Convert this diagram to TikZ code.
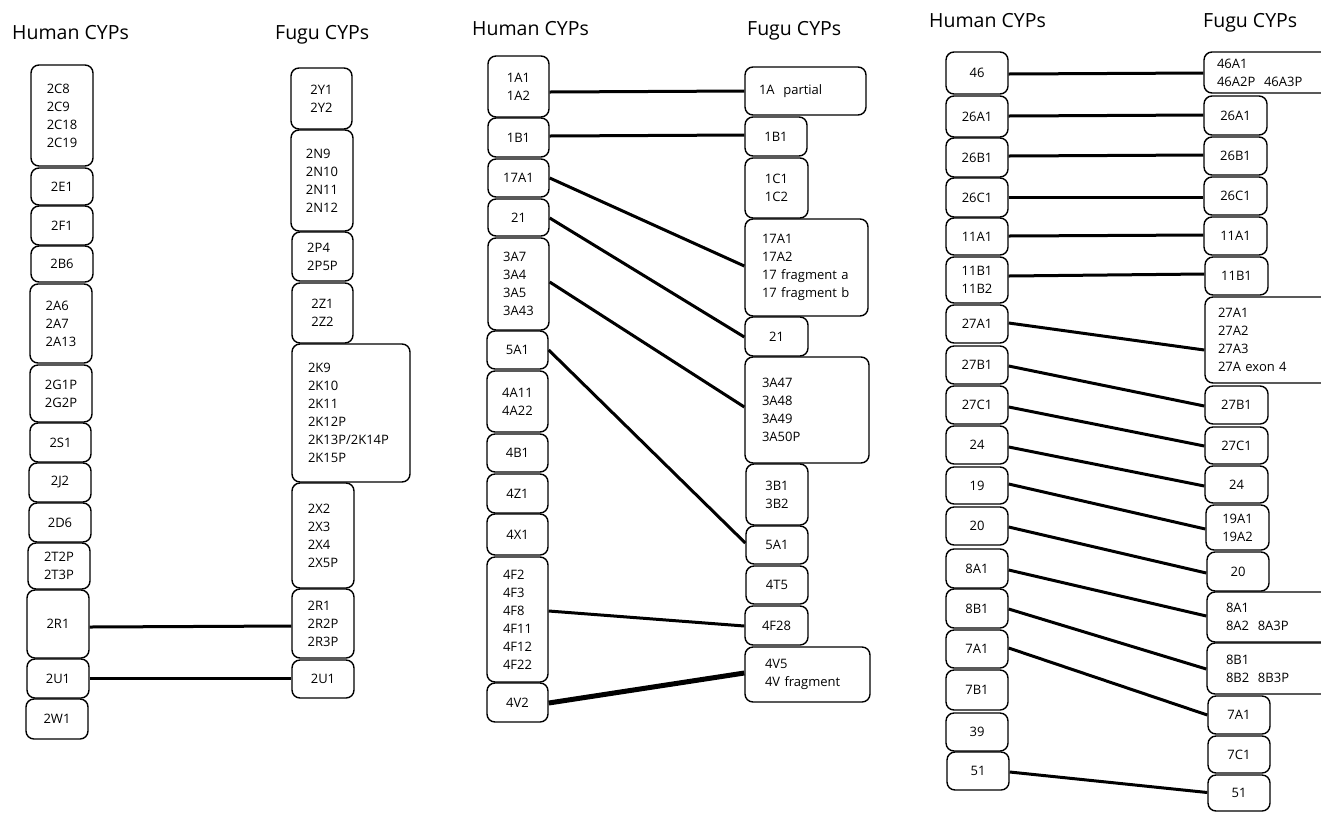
\documentclass[tikz,border=0pt]{standalone}
\usepackage{fontspec}
\setmainfont{Open Sans}
\usetikzlibrary{calc}
\tikzset{
  cypbox/.style={draw, line width=1.4pt, rounded corners=8pt, inner sep=0pt,
    align=left, font=\fontsize{13}{18}\selectfont},
  conn/.style={line width=3pt},
  heavy/.style={line width=5pt},
  head/.style={font=\fontsize{19.5}{22}\selectfont, anchor=base west, inner sep=0pt},
}
% box from (x1,y1) to (x2,y2), text block centred
\newcommand\cyp[6]{\node[cypbox, minimum width={#4-#2}, minimum height={#5-#3}]
  (#1) at ({(#2+#4)/2},{(#3+#5)/2}) {#6};}
% wide box, text flush left with padding #7
\newcommand\cypw[7]{\pgfmathsetmacro\cyptw{#4-#2-2*#7}%
  \node[cypbox, text width=\cyptw pt, minimum width={#4-#2}, minimum height={#5-#3}]
  (#1) at ({(#2+#4)/2},{(#3+#5)/2}) {#6};}
% connector: offsets measured downward from the side centres
\newcommand\link[5][conn]{\draw[#1] ($(#2.east)+(0,#3)$) -- ($(#4.west)+(0,#5)$);}
\begin{document}
\begin{tikzpicture}[x=1pt, y=-1pt]
\useasboundingbox (0,0) rectangle (1321,812);
\clip (0,0) rectangle (1321,812);

% ---------- CYP2 families ----------
\node[head] (t1h) at (12,39) {Human CYPs};
\node[head] (t1f) at (275,39) {Fugu CYPs};

\cyp{h2C}{31}{65}{93}{166}{2C8\\2C9\\2C18\\2C19}
\cyp{h2E1}{31}{168}{93}{205}{2E1}
\cyp{h2F1}{31}{206}{93}{245}{2F1}
\cyp{h2B6}{31}{246}{93}{282}{2B6}
\cyp{h2A}{30}{284}{92}{363}{2A6\\2A7\\2A13}
\cyp{h2G}{30}{365}{92}{422}{2G1P\\2G2P}
\cyp{h2S1}{30}{423}{91}{462}{2S1}
\cyp{h2J2}{29}{463}{91}{502}{2J2}
\cyp{h2D6}{29}{503}{91}{542}{2D6}
\cyp{h2T}{28}{543}{90}{589}{2T2P\\2T3P}
\cyp{h2R1}{27}{590}{89}{658}{2R1}
\cyp{h2U1}{27}{659}{89}{698}{2U1}
\cyp{h2W1}{26}{699}{88}{739}{2W1}

\cyp{f2Y}{291}{68}{352}{129}{2Y1\\2Y2}
\cyp{f2N}{291}{130}{353}{231}{2N9\\2N10\\2N11\\2N12}
\cyp{f2P}{292}{232}{353}{281}{2P4\\2P5P}
\cyp{f2Z}{292}{283}{353}{343}{2Z1\\2Z2}
\cypw{f2K}{292}{344}{410}{482}{2K9\\2K10\\2K11\\2K12P\\2K13P/2K14P\\2K15P}{16}
\cyp{f2X}{292}{483}{354}{588}{2X2\\2X3\\2X4\\2X5P}
\cyp{f2R}{292}{589}{354}{658}{2R1\\2R2P\\2R3P}
\cyp{f2U1}{292}{660}{354}{698}{2U1}

\link{h2R1}{3}{f2R}{2.5}
\link{h2U1}{-0.5}{f2U1}{-1}

% ---------- CYP1, 3, 4, 5, 17, 21 families ----------
\node[head] (t2h) at (472,35) {Human CYPs};
\node[head] (t2f) at (747,35) {Fugu CYPs};

\cyp{h1A}{488}{56}{549}{117}{1A1\\1A2}
\cyp{h1B1}{488}{118}{549}{157}{1B1}
\cyp{h17A1}{488}{159}{549}{197}{17A1}
\cyp{h21}{488}{199}{549}{236}{21}
\cyp{h3A}{488}{238}{549}{330}{3A7\\3A4\\3A5\\3A43}
\cyp{h5A1}{487}{331}{548}{369}{5A1}
\cyp{h4A}{487}{371}{548}{432}{4A11\\4A22}
\cyp{h4B1}{487}{434}{548}{472}{4B1}
\cyp{h4Z1}{487}{474}{548}{513}{4Z1}
\cyp{h4X1}{487}{514}{548}{555}{4X1}
\cyp{h4F}{487}{557}{548}{682}{4F2\\4F3\\4F8\\4F11\\4F12\\4F22}
\cyp{h4V2}{487}{683}{548}{722}{4V2}

\cypw{f1A}{745}{67}{866}{115}{1A\ \ partial}{14}
\cyp{f1B1}{745}{117}{807}{156}{1B1}
\cyp{f1C}{745}{158}{808}{218}{1C1\\1C2}
\cypw{f17A}{745}{219}{868}{316}{17A1\\17A2\\17 fragment a\\17 fragment b}{17}
\cyp{f21}{745}{317}{808}{356}{21}
\cypw{f3A}{745}{357}{869}{463}{3A47\\3A48\\3A49\\3A50P}{17}
\cyp{f3B}{746}{464}{808}{525}{3B1\\3B2}
\cyp{f5A1}{746}{526}{808}{564}{5A1}
\cyp{f4T5}{746}{566}{808}{604}{4T5}
\cyp{f4F28}{745}{606}{808}{645}{4F28}
\cypw{f4V}{745}{647}{870}{702}{4V5\\4V fragment}{20}

\link{h1A}{5.5}{f1A}{0}
\link{h1B1}{-1.5}{f1B1}{-1.5}
\link{h17A1}{0}{f17A}{-1.5}
\link{h21}{0.5}{f21}{0.5}
\link{h3A}{-2}{f3A}{-3}
\link{h5A1}{0}{f5A1}{-2}
\link{h4F}{-8.5}{f4F28}{0.5}
\link[heavy]{h4V2}{0.5}{f4V}{-1.5}

% ---------- CYP7, 8, 11, 19, 20, 24, 26, 27, 39, 46, 51 families ----------
\node[head] (t3h) at (929,27) {Human CYPs};
\node[head] (t3f) at (1203,27) {Fugu CYPs};

\cyp{h46}{946}{52}{1008}{94}{46}
\cyp{h26A1}{946}{96}{1008}{137}{26A1}
\cyp{h26B1}{946}{138}{1008}{177}{26B1}
\cyp{h26C1}{946}{178}{1008}{217}{26C1}
\cyp{h11A1}{946}{218}{1008}{255}{11A1}
\cyp{h11B}{946}{257}{1008}{303}{11B1\\11B2}
\cyp{h27A1}{946}{305}{1008}{343}{27A1}
\cyp{h27B1}{946}{346}{1008}{384}{27B1}
\cyp{h27C1}{946}{386}{1008}{424}{27C1}
\cyp{h24}{946}{426}{1008}{464}{24}
\cyp{h19}{946}{467}{1008}{504}{19}
\cyp{h20}{946}{507}{1008}{545}{20}
\cyp{h8A1}{946}{549}{1008}{588}{8A1}
\cyp{h8B1}{946}{589}{1008}{628}{8B1}
\cyp{h7A1}{946}{630}{1008}{668}{7A1}
\cyp{h7B1}{946}{670}{1008}{710}{7B1}
\cyp{h39}{946}{713}{1008}{751}{39}
\cyp{h51}{947}{752}{1009}{790}{51}

\cypw{f46A}{1204}{52}{1345}{93}{46A1\\46A2P\ \ 46A3P}{13}
\cyp{f26A1}{1204}{96}{1267}{135}{26A1}
\cyp{f26B1}{1204}{137}{1267}{175}{26B1}
\cyp{f26C1}{1204}{177}{1267}{215}{26C1}
\cyp{f11A1}{1204}{217}{1267}{255}{11A1}
\cyp{f11B1}{1205}{257}{1268}{295}{11B1}
\cypw{f27A}{1205}{297}{1345}{383}{27A1\\27A2\\27A3\\27A exon 4}{13}
\cyp{f27B1}{1205}{386}{1268}{424}{27B1}
\cyp{f27C1}{1205}{427}{1268}{464}{27C1}
\cyp{f24}{1205}{466}{1268}{503}{24}
\cyp{f19A}{1206}{505}{1269}{550}{19A1\\19A2}
\cyp{f20}{1207}{552}{1269}{591}{20}
\cypw{f8A}{1207}{592}{1345}{642}{8A1\\8A2\ \ 8A3P}{19}
\cypw{f8B}{1207}{643}{1345}{694}{8B1\\8B2\ \ 8B3P}{19}
\cyp{f7A1}{1208}{696}{1270}{734}{7A1}
\cyp{f7C1}{1208}{736}{1270}{773}{7C1}
\cyp{f51}{1208}{775}{1270}{811}{51}

\link{h46}{1}{f46A}{0.5}
\link{h26A1}{-0.5}{f26A1}{-0.5}
\link{h26B1}{-1.5}{f26B1}{-1}
\link{h26C1}{-0.5}{f26C1}{1}
\link{h11A1}{-0.5}{f11A1}{-1}
\link{h11B}{-4}{f11B1}{-2}
\link{h27A1}{-1}{f27A}{10}
\link{h27B1}{1}{f27B1}{1}
\link{h27C1}{2}{f27C1}{0.5}
\link{h24}{2}{f24}{1.5}
\link{h19}{-1.5}{f19A}{1.5}
\link{h20}{1}{f20}{1.5}
\link{h8A1}{1.5}{f8A}{-1}
\link{h8B1}{0.5}{f8B}{0.5}
\link{h7A1}{-1}{f7A1}{0}
\link{h51}{1}{f51}{-0.5}
\end{tikzpicture}
\end{document}
